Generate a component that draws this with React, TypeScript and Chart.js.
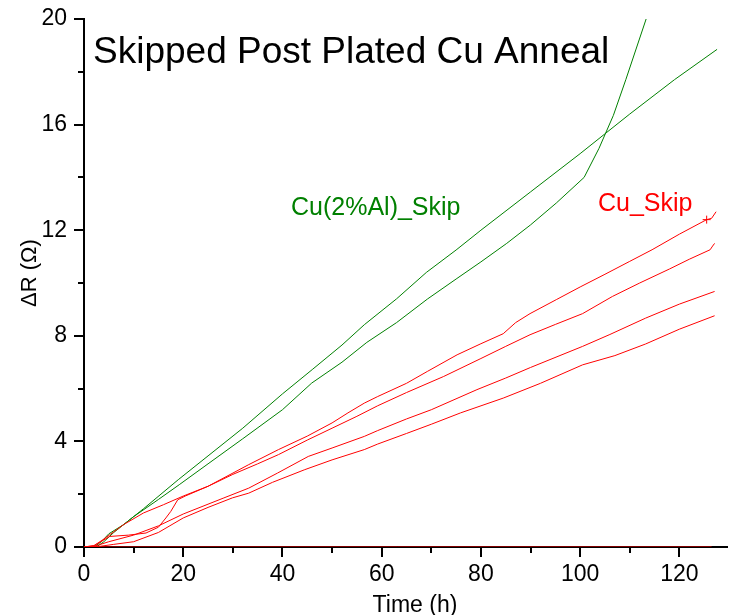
import React, { useEffect, useRef } from "react";
import { Chart, registerables } from "chart.js";

Chart.register(...registerables);

// ---- data (hours, ΔR in Ω) ----
const alA_x = [0, 2, 3.5, 5, 8, 12, 19, 25, 32, 40, 46, 52, 56.5, 63, 69, 75, 80, 90, 100, 105, 110, 119, 127.6];
const alA_y = [0, 0, 0.2, 0.5, 0.85, 1.45, 2.55, 3.45, 4.5, 5.8, 6.72, 7.65, 8.42, 9.4, 10.4, 11.25, 12.0, 13.45, 14.9, 15.65, 16.4, 17.7, 18.85];

const alB_x = [0, 2.5, 4, 6, 10, 15, 19.2, 25, 32, 40, 45.9, 52, 57, 63, 69.2, 75, 80, 85.2, 90, 95.2, 100.8, 103.8, 106.7, 109.2, 113.3, 114.4];
const alB_y = [0, 0, 0.2, 0.55, 1.15, 1.8, 2.36, 3.15, 4.1, 5.2, 6.21, 7.0, 7.75, 8.5, 9.39, 10.15, 10.8, 11.5, 12.2, 13.03, 14.0, 15.1, 16.35, 17.7, 20.0, 20.6];

const cu1_x = [0, 2, 4, 8, 12, 16, 20, 25, 33.2, 39.2, 45, 50, 53.2, 56.5, 59.2, 65, 69.2, 75.2, 80, 84.5, 87, 89.9, 95.2, 100, 105, 110, 114.5, 120, 125.5, 126.5, 127.4];
const cu1_y = [0, 0.05, 0.3, 0.85, 1.29, 1.6, 1.93, 2.3, 3.12, 3.69, 4.2, 4.7, 5.08, 5.45, 5.7, 6.2, 6.65, 7.28, 7.7, 8.08, 8.5, 8.84, 9.37, 9.85, 10.33, 10.82, 11.26, 11.85, 12.4, 12.45, 12.7];

const cu2_x = [0, 2, 5.2, 9, 12.5, 15, 16.5, 17.5, 18.9, 20.4, 25, 30, 35, 39.2, 45, 50, 55, 59.2, 65, 72.5, 80, 85, 89.9, 95, 100.5, 106.5, 112, 118, 122, 126.2, 126.7, 127.1];
const cu2_y = [0, 0.05, 0.4, 0.45, 0.53, 0.75, 1.1, 1.35, 1.79, 1.93, 2.3, 2.75, 3.15, 3.5, 4.05, 4.5, 4.95, 5.35, 5.85, 6.46, 7.14, 7.6, 8.04, 8.43, 8.84, 9.49, 10.0, 10.53, 10.9, 11.26, 11.4, 11.5];

const cu3_x = [0, 2, 5, 10, 15, 20, 28.2, 33.2, 39, 45.2, 50, 56.5, 59.2, 65, 70, 79.2, 85, 90, 100.5, 106, 113.2, 120, 127.1];
const cu3_y = [0, 0.02, 0.2, 0.45, 0.8, 1.25, 1.86, 2.23, 2.8, 3.43, 3.75, 4.19, 4.41, 4.85, 5.2, 5.96, 6.4, 6.8, 7.6, 8.05, 8.67, 9.2, 9.68];

const cu4_x = [0, 3, 6, 10, 15, 20, 25, 29.9, 33.2, 38, 44.5, 50, 56.5, 59.2, 65, 70, 75.9, 84.5, 92, 100.5, 107, 113.2, 120, 127.1];
const cu4_y = [0, 0.02, 0.1, 0.2, 0.55, 1.1, 1.5, 1.86, 2.04, 2.45, 2.93, 3.3, 3.69, 3.9, 4.3, 4.65, 5.08, 5.64, 6.2, 6.9, 7.25, 7.69, 8.25, 8.76];

const base_x = [0, 126.5];
const base_y = [0, 0];

const mark_x = [125.5];
const mark_y = [12.4];

const xMajorTicks = [0, 20, 40, 60, 80, 100, 120];
const xMinorTicks = [10, 30, 50, 70, 90, 110];
const yMajorTicks = [0, 4, 8, 12, 16, 20];
const yMinorTicks = [2, 6, 10, 14, 18];

const titleText = "Skipped Post Plated Cu Anneal";
const alLabel = "Cu(2%Al)_Skip";
const cuLabel = "Cu_Skip";
const xTitle = "Time (h)";
const yTitle = "\u0394R (\u03A9)";

const GREEN = "#008000";
const RED = "#ff0000";
const FONT = "Arial, 'Liberation Sans', sans-serif";

const pts = (xs: number[], ys: number[]) => xs.map((x, i) => ({ x, y: ys[i] }));

const line = (xs: number[], ys: number[], color: string) => ({
  data: pts(xs, ys),
  borderColor: color,
  backgroundColor: color,
  borderWidth: 1,
  pointRadius: 0,
  tension: 0,
  fill: false,
});

const decorPlugin = {
  id: "decor",
  afterDraw(chart: any) {
    const ctx = chart.ctx;
    const xs = chart.scales.x;
    const ys = chart.scales.y;
    const area = chart.chartArea;
    ctx.save();
    ctx.strokeStyle = "#000";
    ctx.lineWidth = 2;
    ctx.beginPath();
    const drawX = (vals: number[], len: number) => {
      vals.forEach((v) => {
        const p = Math.round(xs.getPixelForValue(v));
        ctx.moveTo(p, area.bottom);
        ctx.lineTo(p, area.bottom + len);
      });
    };
    const drawY = (vals: number[], len: number) => {
      vals.forEach((v) => {
        const p = Math.round(ys.getPixelForValue(v));
        ctx.moveTo(area.left, p);
        ctx.lineTo(area.left - len, p);
      });
    };
    drawX(xMajorTicks, 10);
    drawX(xMinorTicks, 6);
    drawY(yMajorTicks, 10);
    drawY(yMinorTicks, 6);
    ctx.stroke();

    ctx.textBaseline = "alphabetic";
    ctx.textAlign = "left";
    ctx.fillStyle = "#000";
    ctx.font = `37px ${FONT}`;
    ctx.fillText(titleText, 93, 63);

    ctx.font = `25px ${FONT}`;
    ctx.fillStyle = GREEN;
    ctx.fillText(alLabel, 291, 215);
    ctx.fillStyle = RED;
    ctx.fillText(cuLabel, 598, 211);

    ctx.fillStyle = "#000";
    ctx.font = `23px ${FONT}`;
    ctx.textAlign = "center";
    ctx.fillText(xTitle, 415, 612);

    ctx.translate(36, 273);
    ctx.rotate(-Math.PI / 2);
    ctx.font = `22px ${FONT}`;
    ctx.fillText(yTitle, 0, 0);
    ctx.restore();
  },
};

export default function App() {
  const ref = useRef<HTMLCanvasElement | null>(null);

  useEffect(() => {
    document.body.style.margin = "0";
    if (!ref.current) return;
    const chart = new Chart(ref.current, {
      type: "line",
      data: {
        datasets: [
          line(base_x, base_y, RED),
          line(cu4_x, cu4_y, RED),
          line(cu3_x, cu3_y, RED),
          line(cu2_x, cu2_y, RED),
          line(cu1_x, cu1_y, RED),
          line(alB_x, alB_y, GREEN),
          line(alA_x, alA_y, GREEN),
          {
            data: pts(mark_x, mark_y),
            borderColor: RED,
            backgroundColor: RED,
            showLine: false,
            pointStyle: "cross",
            pointRadius: 4,
            borderWidth: 1,
          } as any,
        ],
      },
      options: {
        animation: false,
        responsive: true,
        maintainAspectRatio: false,
        layout: { padding: { top: 19, right: 0, left: 0, bottom: 0 } },
        plugins: { legend: { display: false }, tooltip: { enabled: false } },
        scales: {
          x: {
            type: "linear",
            min: 0,
            max: 129.6,
            afterBuildTicks: (s: any) => {
              s.ticks = xMajorTicks.map((v) => ({ value: v }));
            },
            afterFit: (s: any) => {
              s.height = 68;
              s.paddingLeft = 0;
              s.paddingRight = 0;
            },
            grid: { display: false, drawTicks: false },
            border: { display: true, color: "#000", width: 2 },
            ticks: {
              color: "#000",
              font: { family: FONT, size: 23 },
              padding: 14,
              maxRotation: 0,
              autoSkip: false,
            },
          },
          y: {
            type: "linear",
            min: 0,
            max: 20,
            afterBuildTicks: (s: any) => {
              s.ticks = yMajorTicks.map((v) => ({ value: v }));
            },
            afterFit: (s: any) => {
              s.width = 84;
              s.paddingTop = 0;
              s.paddingBottom = 0;
            },
            grid: { display: false, drawTicks: false },
            border: { display: true, color: "#000", width: 2 },
            ticks: {
              color: "#000",
              font: { family: FONT, size: 23 },
              padding: 17,
              autoSkip: false,
            },
          },
        },
      },
      plugins: [decorPlugin],
    });
    return () => chart.destroy();
  }, []);

  return (
    <div style={{ width: 732, height: 615, position: "relative" }}>
      <canvas ref={ref} />
    </div>
  );
}
